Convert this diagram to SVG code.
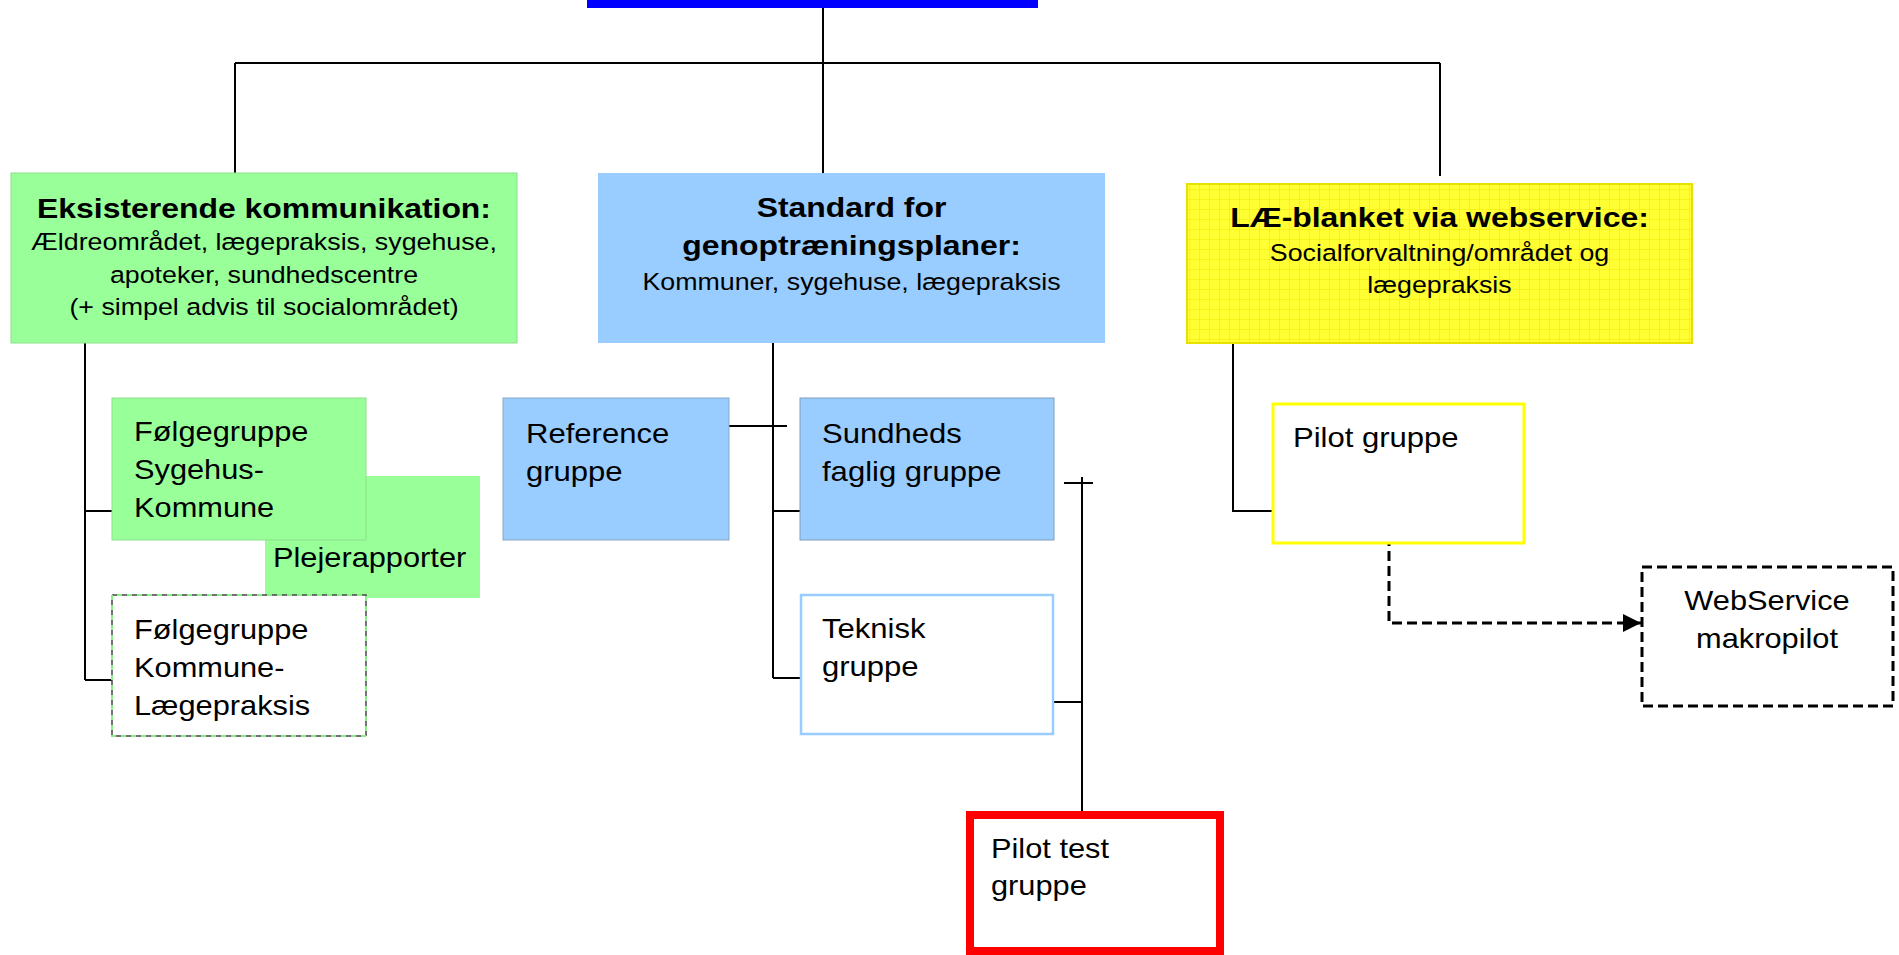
<svg xmlns="http://www.w3.org/2000/svg" width="1899" height="955" viewBox="0 0 1899 955">
<style>
text{font-family:"Liberation Sans",Arial,sans-serif;fill:#000}
.b{font-size:28px;font-weight:bold}
.s{font-size:23.5px}
.m{font-size:27px}
.c{text-anchor:middle}
.ln{stroke:#000;stroke-width:2;fill:none}
.dash{stroke:#000;stroke-width:3;fill:none;stroke-dasharray:10 5}
</style>
<defs>
<pattern id="grid" width="10" height="10" patternUnits="userSpaceOnUse">
<rect width="10" height="10" fill="#FFFF33"/>
<path d="M10 0V10M0 10H10" stroke="#EEE600" stroke-width="1" fill="none"/>
</pattern>
<marker id="arr" markerWidth="6" markerHeight="6" refX="6" refY="3" orient="auto" markerUnits="strokeWidth">
<path d="M0 0L6 3L0 6Z" fill="#000"/>
</marker>
</defs>

<g id="connectors">
<rect x="587" y="0" width="451" height="8" fill="#0000FF"/>
<path class="ln" d="M823 8V173M235 63H1440M235 63V173M1440 63V176"/>
<path class="ln" d="M85 343V680M85 511H112M85 680H112"/>
<path class="ln" d="M773 343V678M729 426H787M773 511H800M773 678H800"/>
<path class="ln" d="M1082 477V811M1064 483H1093M1054 702H1082"/>
<path class="ln" d="M1233 343V511H1272"/>
<path class="dash" d="M1389 536V623H1641" marker-end="url(#arr)"/>
</g>

<g id="plejerapporter">
<rect x="265" y="476" width="215" height="122" fill="#99FF99"/>
<text class="m" transform="translate(273,567) scale(1.14,1)">Plejerapporter</text>
</g>

<g id="eksisterende">
<rect x="11" y="173" width="506" height="170" fill="#99FF99" stroke="#8BE08B" stroke-width="1"/>
<g transform="translate(264,0) scale(1.14,1)">
<text class="b c" x="0" y="218">Eksisterende kommunikation:</text>
<text class="s c" x="0" y="250">Ældreområdet, lægepraksis, sygehuse,</text>
<text class="s c" x="0" y="283">apoteker, sundhedscentre</text>
<text class="s c" x="0" y="315">(+ simpel advis til socialområdet)</text>
</g>
</g>

<g id="standard">
<rect x="598" y="173" width="507" height="170" fill="#99CCFF"/>
<g transform="translate(851.5,0) scale(1.14,1)">
<text class="b c" x="0" y="217">Standard for</text>
<text class="b c" x="0" y="255">genoptræningsplaner:</text>
<text class="s c" x="0" y="290">Kommuner, sygehuse, lægepraksis</text>
</g>
</g>

<g id="lae-blanket">
<rect x="1187" y="184" width="505" height="159" fill="url(#grid)" stroke="#E8E000" stroke-width="2"/>
<g transform="translate(1439.5,0) scale(1.14,1)">
<text class="b c" x="0" y="227">LÆ-blanket via webservice:</text>
<text class="s c" x="0" y="261">Socialforvaltning/området og</text>
<text class="s c" x="0" y="293">lægepraksis</text>
</g>
</g>

<g id="folge-sygehus">
<rect x="112" y="398" width="254" height="142" fill="#99FF99" stroke="#8BE08B" stroke-width="1"/>
<g transform="translate(134,0) scale(1.14,1)">
<text class="m" x="0" y="441">Følgegruppe</text>
<text class="m" x="0" y="479">Sygehus-</text>
<text class="m" x="0" y="517">Kommune</text>
</g>
</g>

<g id="folge-laege">
<rect x="112" y="595" width="254" height="141" fill="#FFFFFF" stroke="#444" stroke-width="1.5" stroke-dasharray="5 5"/>
<rect x="112" y="595" width="254" height="141" fill="none" stroke="#88EE88" stroke-width="2" stroke-dasharray="5 5" stroke-dashoffset="5"/>
<g transform="translate(134,0) scale(1.14,1)">
<text class="m" x="0" y="639">Følgegruppe</text>
<text class="m" x="0" y="677">Kommune-</text>
<text class="m" x="0" y="715">Lægepraksis</text>
</g>
</g>

<g id="reference">
<rect x="503" y="398" width="226" height="142" fill="#99CCFF" stroke="#8AAAC8" stroke-width="1"/>
<g transform="translate(526,0) scale(1.15,1)">
<text class="m" x="0" y="443">Reference</text>
<text class="m" x="0" y="481">gruppe</text>
</g>
</g>

<g id="sundheds">
<rect x="800" y="398" width="254" height="142" fill="#99CCFF" stroke="#7F9DB9" stroke-width="1"/>
<g transform="translate(822,0) scale(1.15,1)">
<text class="m" x="0" y="443">Sundheds</text>
<text class="m" x="0" y="481">faglig gruppe</text>
</g>
</g>

<g id="teknisk">
<rect x="801" y="595" width="252" height="139" fill="#FFFFFF" stroke="#99CCFF" stroke-width="2.5"/>
<g transform="translate(822,0) scale(1.15,1)">
<text class="m" x="0" y="638">Teknisk</text>
<text class="m" x="0" y="676">gruppe</text>
</g>
</g>

<g id="pilot-test">
<rect x="970" y="815" width="250" height="136" fill="#FFFFFF" stroke="#FF0000" stroke-width="8"/>
<g transform="translate(991,0) scale(1.14,1)">
<text class="m" x="0" y="858">Pilot test</text>
<text class="m" x="0" y="895">gruppe</text>
</g>
</g>

<g id="pilot-gruppe">
<rect x="1273" y="404" width="251" height="139" fill="#FFFFFF" stroke="#FFFF00" stroke-width="3"/>
<text class="m" transform="translate(1293,447) scale(1.15,1)">Pilot gruppe</text>
</g>

<g id="webservice">
<rect x="1642" y="567" width="251" height="139" fill="#FFFFFF" class="dash"/>
<g transform="translate(1767,0) scale(1.14,1)">
<text class="m c" x="0" y="610">WebService</text>
<text class="m c" x="0" y="648">makropilot</text>
</g>
</g>
</svg>
